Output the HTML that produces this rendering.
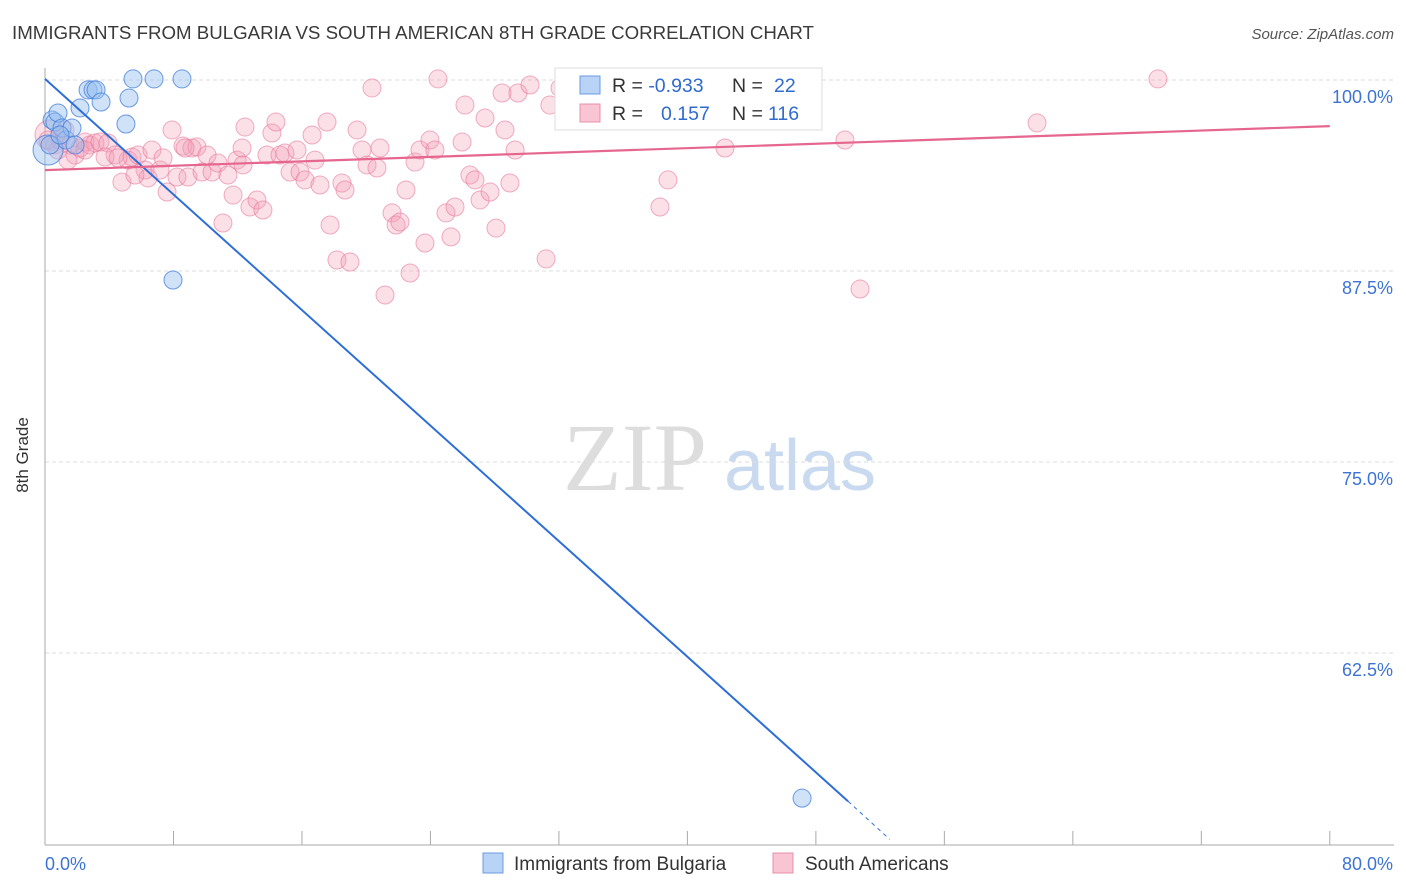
<!DOCTYPE html>
<html><head><meta charset="utf-8"><style>
body{margin:0;background:#fff;font-family:"Liberation Sans",sans-serif}
svg{display:block}
</style></head><body>
<svg id="chart" width="1406" height="892">
<text x="12" y="39" font-size="18.7" fill="#3a3a3a">IMMIGRANTS FROM BULGARIA VS SOUTH AMERICAN 8TH GRADE CORRELATION CHART</text>
<text x="1394" y="39" font-size="15" fill="#555" text-anchor="end" font-style="italic">Source: ZipAtlas.com</text>
<text x="28" y="455" font-size="17" fill="#333" text-anchor="middle" transform="rotate(-90 28 455)">8th Grade</text>
<g id="watermark">
<text x="635" y="490" font-size="96" fill="#ddd" font-family="Liberation Serif,serif" text-anchor="middle">ZIP</text>
<text x="800" y="490" font-size="72" fill="#c9daf0" text-anchor="middle">atlas</text>
</g>
<g id="grid"></g><g id="axes"></g><g id="pts"></g><g id="lines"></g>
<g>
<rect x="555" y="68" width="267" height="62" fill="#fff" stroke="#ddd"/>
<rect x="580" y="76" width="20" height="18" fill="#b8d3f5" stroke="#6a9be0"/>
<rect x="580" y="104" width="20" height="18" fill="#f9c4d3" stroke="#e890aa"/>
<text x="612" y="92" font-size="19.5" fill="#333">R = <tspan fill="#2f6bd0">-0.933</tspan><tspan x="732">N = </tspan><tspan fill="#2f6bd0" x="774">22</tspan></text>
<text x="612" y="120" font-size="19.5" fill="#333">R = <tspan fill="#2f6bd0" x="661">0.157</tspan><tspan x="732">N = </tspan><tspan fill="#2f6bd0" x="768">116</tspan></text>
</g>
<g>
<rect x="483" y="853" width="20" height="20" fill="#b8d3f5" stroke="#6a9be0"/>
<text x="514" y="870" font-size="19" fill="#333">Immigrants from Bulgaria</text>
<rect x="773" y="853" width="20" height="20" fill="#f9c4d3" stroke="#e890aa"/>
<text x="805" y="870" font-size="19" fill="#333">South Americans</text>
</g>
</svg>
<script>
const yTicks=[100,87.5,75,62.5];
const yTickLabels=["100.0%","87.5%","75.0%","62.5%"];
const xTickLabels=["0.0%","80.0%"];
const blueX=[0.19,0.44,0.62,0.81,1.06,1.31,1.68,2.18,2.68,2.99,3.18,3.49,5.04,5.23,5.48,6.79,8.53,7.97,47.14,0.31,0.93,1.87];
const blueY=[95.42,97.38,97.25,97.84,96.86,96.07,96.86,98.17,99.35,99.35,99.35,98.56,97.12,98.82,100.07,100.07,100.07,86.91,53.0,95.75,96.40,95.75];
const pinkX=[0.31,0.62,0.93,1.25,1.56,1.87,2.18,2.49,2.80,3.11,3.42,3.92,4.36,4.79,5.17,5.42,5.79,6.23,6.41,6.66,7.16,7.35,7.60,7.91,8.22,8.59,8.90,9.15,9.46,9.78,10.09,10.40,10.77,11.08,11.39,11.71,11.96,12.33,12.45,12.76,13.20,13.57,13.82,14.13,14.38,14.63,14.94,15.26,15.69,15.88,16.19,16.63,16.81,17.12,17.56,17.75,18.18,18.49,18.68,18.99,19.43,19.74,20.05,20.36,20.67,20.86,21.17,21.61,21.86,22.10,22.48,22.73,23.04,23.35,23.66,23.97,24.28,24.47,24.97,25.28,25.53,25.97,26.15,26.46,26.77,27.09,27.40,27.71,28.08,28.46,28.64,28.95,29.27,29.45,30.20,31.20,31.44,32.07,32.50,34.56,35.31,38.29,38.79,40.60,42.34,49.81,50.75,61.77,69.30,0.19,0.81,1.43,2.49,3.74,4.55,5.60,12.27,8.72];
const pinkY=[96.40,95.75,96.07,96.73,95.75,95.09,95.55,95.94,95.75,95.88,95.94,95.88,95.09,93.32,94.76,94.96,95.09,94.11,93.59,95.42,94.11,94.90,92.67,96.73,93.65,95.68,93.65,95.55,95.62,93.98,95.09,93.98,94.57,90.64,93.78,92.47,94.76,94.44,96.92,91.69,92.15,91.49,95.09,96.53,97.25,95.09,95.22,93.98,95.42,93.98,93.46,96.40,94.76,93.13,97.25,90.51,88.22,93.26,92.80,88.09,96.73,95.42,94.44,99.48,94.24,95.55,85.93,91.30,90.51,90.71,92.80,87.37,94.63,95.42,89.33,96.07,95.42,100.07,91.30,89.73,91.69,95.94,98.36,93.78,93.46,92.15,97.51,92.67,90.31,99.15,96.73,93.26,95.42,99.15,99.67,88.29,98.36,99.48,100.07,100.07,99.67,91.69,93.46,97.51,95.55,96.07,86.32,97.19,100.07,96.07,95.42,94.76,95.42,94.96,94.90,93.78,95.55,95.55];
const blueLine=[[0,100.07],[50,52.8],[52.6,50.3]];
const pinkLine=[[0,94.1],[80,96.98]];
const NS='http://www.w3.org/2000/svg';
const xs=v=>45+v*16.06;
const ys=v=>80+(100-v)*15.28;
function mk(t,a,p){const e=document.createElementNS(NS,t);for(const k in a)e.setAttribute(k,a[k]);document.getElementById(p).appendChild(e);return e;}
yTicks.forEach((t,i)=>{
 const l=mk('line',{x1:45,x2:1394,y1:ys(t),y2:ys(t),stroke:'#ddd','stroke-dasharray':'4 3'},'grid');
 
 
 const tx=mk('text',{x:1393,y:ys(t)+23,'font-size':18,fill:'#3d73d6','text-anchor':'end'},'axes');
 tx.textContent=yTickLabels[i];
 
 
});
let a=mk('line',{x1:45,x2:45,y1:68,y2:845,stroke:'#aaa'},'axes');


a=mk('line',{x1:45,x2:1394,y1:845,y2:845,stroke:'#aaa'},'axes');


for(let i=1;i<=10;i++){const t=mk('line',{x1:xs(i*8),x2:xs(i*8),y1:831,y2:845,stroke:'#aaa'},'axes');
 
 }
[[0,'start',45],[80,'end',1393]].forEach((d,i)=>{const t=mk('text',{x:d[2],y:870,'font-size':18,fill:'#3d73d6','text-anchor':d[1]},'axes');t.textContent=xTickLabels[i];
 
 });
pinkX.forEach((x,i)=>{const c=mk('circle',{cx:xs(x),cy:ys(pinkY[i]),r:i==0?15:9,fill:'rgba(244,160,185,0.32)',stroke:'rgba(232,120,155,0.6)','stroke-width':1},'pts');
 
 });
blueX.forEach((x,i)=>{const c=mk('circle',{cx:xs(x),cy:ys(blueY[i]),r:i==0?15:9,fill:'rgba(150,190,240,0.45)',stroke:'rgba(70,130,220,0.8)','stroke-width':1},'pts');
 
 });
let l=mk('line',{x1:xs(blueLine[0][0]),y1:ys(blueLine[0][1]),x2:xs(blueLine[1][0]),y2:ys(blueLine[1][1]),stroke:'#2d6fd6','stroke-width':2},'lines');


l=mk('line',{x1:xs(blueLine[1][0]),y1:ys(blueLine[1][1]),x2:xs(blueLine[2][0]),y2:ys(blueLine[2][1]),stroke:'#2d6fd6','stroke-width':1,'stroke-dasharray':'4 4'},'lines');


l=mk('line',{x1:xs(pinkLine[0][0]),y1:ys(pinkLine[0][1]),x2:xs(pinkLine[1][0]),y2:ys(pinkLine[1][1]),stroke:'#e5668f','stroke-width':2.2},'lines');


</script>
</body></html>
